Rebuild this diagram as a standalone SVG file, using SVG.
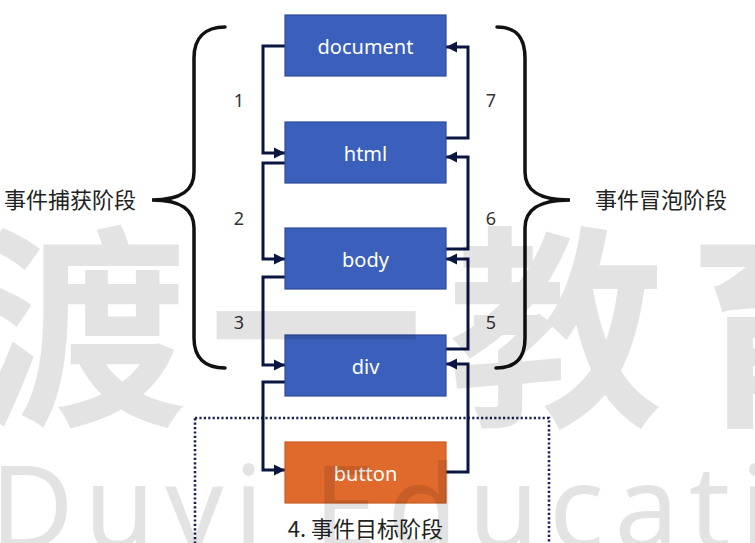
<svg xmlns="http://www.w3.org/2000/svg" width="755" height="543" viewBox="0 0 755 543">
  <style>
    .box { fill: #3b60bc; stroke: #2d4c9a; stroke-width: 1.2; }
    .target { fill: #e0692c; stroke: #c85b22; stroke-width: 1.2; }
    .lbl { font-family: "Noto Sans", "Liberation Sans", sans-serif; font-size: 20px; fill: #ffffff; text-anchor: middle; }
    .num { font-family: "Noto Sans", "Liberation Sans", sans-serif; font-size: 18px; fill: #333333; text-anchor: middle; }
    .cjk { font-family: "Noto Sans CJK SC", sans-serif; font-size: 22px; fill: #222222; }
    .conn { fill: none; stroke: #0b1640; stroke-width: 3; stroke-linejoin: miter; }
    .brace { fill: none; stroke: #111111; stroke-width: 3.5; stroke-linecap: round; }
    .wm { fill: #000000; fill-opacity: 0.11; }
  </style>
  <defs>
    <marker id="arr" markerUnits="userSpaceOnUse" markerWidth="12" markerHeight="12" refX="11" refY="6" orient="auto">
      <path d="M0,0.5 L11,6 L0,11.5 z" fill="#0b1640"/>
    </marker>
  </defs>
  <rect width="755" height="543" fill="#ffffff"/>

  <!-- target phase frame -->
  <rect id="target-frame" x="195" y="418" width="354" height="140" fill="none" stroke="#1a2352" stroke-width="2.6" stroke-dasharray="2.2 2.2"/>

  <!-- braces -->
  <g id="capture-brace">
    <path class="brace" d="M225,27 C205,27 194,38 194,58 L194,172 C194,190 182,200 152,200 C182,200 194,210 194,228 L194,338 C194,358 205,368 225,368"/>
    <text class="cjk" x="4" y="208">事件捕获阶段</text>
  </g>
  <g id="bubble-brace">
    <path class="brace" d="M497,27 C517,27 525,38 525,58 L525,172 C525,190 538,200 570,200 C538,200 525,210 525,228 L525,338 C525,358 516,368 496,368"/>
    <text class="cjk" x="595" y="208">事件冒泡阶段</text>
  </g>

  <!-- connectors -->
  <g id="connectors">
    <polyline class="conn" points="285,46 263,46 263,153 285,153" marker-end="url(#arr)"/>
    <polyline class="conn" points="285,163 263,163 263,259 285,259" marker-end="url(#arr)"/>
    <polyline class="conn" points="285,277 263,277 263,365 285,365" marker-end="url(#arr)"/>
    <polyline class="conn" points="285,382 263,382 263,470 285,470" marker-end="url(#arr)"/>
    <polyline class="conn" points="446,472 468,472 468,364 446,364" marker-end="url(#arr)"/>
    <polyline class="conn" points="446,349 468,349 468,259 446,259" marker-end="url(#arr)"/>
    <polyline class="conn" points="446,249 468,249 468,157 446,157" marker-end="url(#arr)"/>
    <polyline class="conn" points="446,138 468,138 468,47 446,47" marker-end="url(#arr)"/>
    <text class="num" x="239" y="107">1</text>
    <text class="num" x="239" y="225">2</text>
    <text class="num" x="239" y="329">3</text>
    <text class="num" x="491" y="107">7</text>
    <text class="num" x="491" y="225">6</text>
    <text class="num" x="491" y="329">5</text>
  </g>

  <!-- nodes -->
  <g id="document">
    <rect class="box" x="285" y="15" width="161" height="61"/>
    <text class="lbl" x="365.5" y="53.5">document</text>
  </g>
  <g id="html">
    <rect class="box" x="285" y="122" width="161" height="61"/>
    <text class="lbl" x="365.5" y="161">html</text>
  </g>
  <g id="body">
    <rect class="box" x="285" y="228" width="161" height="61"/>
    <text class="lbl" x="365.5" y="267">body</text>
  </g>
  <g id="div">
    <rect class="box" x="285" y="335" width="161" height="61"/>
    <text class="lbl" x="365.5" y="374">div</text>
  </g>
  <g id="button">
    <rect class="target" x="285" y="442" width="161" height="61"/>
    <text class="lbl" x="365.5" y="481">button</text>
  </g>

  <text id="target-label" class="cjk" x="365.5" y="537" font-size="21" text-anchor="middle">4. 事件目标阶段</text>

  <!-- watermark -->
  <g id="watermark">
    <text class="wm" font-family="Noto Sans CJK SC, sans-serif" font-weight="700" font-size="215" text-anchor="middle" y="409">
      <tspan x="80">渡</tspan><tspan x="316">一</tspan><tspan x="556">教</tspan><tspan x="796">育</tspan>
    </text>
    <text class="wm" font-family="Noto Sans, sans-serif" font-size="115" letter-spacing="10" x="-10" y="548">Duyi Education</text>
  </g>
</svg>
